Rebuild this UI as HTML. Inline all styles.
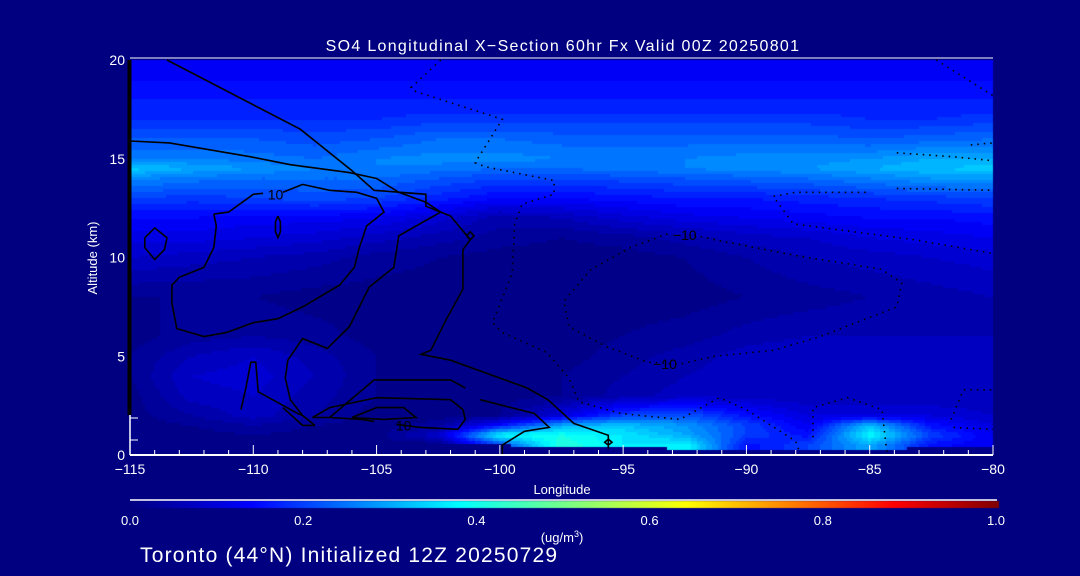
<!DOCTYPE html>
<html><head><meta charset="utf-8"><style>
html,body{margin:0;padding:0;background:#000080;}
#wrap{position:relative;width:1080px;height:576px;background:#000080;overflow:hidden;font-family:"Liberation Sans",sans-serif;}
canvas,svg{position:absolute;left:0;top:0;}
</style></head><body>
<div id="wrap">
<canvas id="heat" width="1080" height="576"></canvas>
<svg id="svg" width="1080" height="576"></svg>
</div>
<script>
// ---- data ----
const lons = [-115,-112.5,-110,-107.5,-105,-102.5,-100,-97.5,-95,-92.5,-90,-87.5,-85,-82.5,-80];
const alts = [0,0.5,1,1.5,2,3,4,5,6,8,10,11,12,13,14,14.5,15,16,17,18,19,20];
const terrain = [1.0,1.0,1.0,0.9,0.8,0.6,0.5,0.4,0.4,0.3,0.3,0.3,0.3,0.35,0.35];
const so4 = [
 [.01,.01,.01,.01,.01,.01,.2,.42,.36,.38,.15,.2,.3,.15,.12],
 [.01,.01,.01,.01,.01,.01,.2,.42,.36,.38,.15,.2,.3,.15,.12],
 [.01,.01,.02,.01,.01,.08,.38,.4,.36,.3,.2,.15,.38,.2,.12],
 [.01,.02,.04,.02,.01,.03,.15,.3,.32,.28,.2,.12,.32,.15,.1],
 [.01,.04,.07,.04,.01,.01,.02,.1,.2,.22,.15,.1,.1,.1,.08],
 [.01,.07,.08,.05,.02,.01,.01,.02,.05,.07,.07,.06,.06,.06,.06],
 [.02,.08,.09,.06,.02,.01,.01,.02,.04,.06,.07,.07,.07,.07,.07],
 [.02,.06,.08,.05,.02,.01,.01,.01,.03,.05,.07,.08,.08,.07,.07],
 [.01,.03,.04,.03,.01,.01,.01,.01,.02,.03,.05,.06,.06,.06,.06],
 [.02,.02,.02,.01,.01,.01,.01,.01,.01,.01,.02,.03,.04,.05,.06],
 [.08,.07,.06,.05,.03,.02,.01,.01,.01,.02,.04,.06,.07,.08,.09],
 [.11,.11,.1,.09,.07,.05,.03,.02,.03,.05,.07,.08,.1,.11,.12],
 [.14,.14,.13,.13,.12,.09,.05,.06,.09,.11,.12,.13,.14,.14,.15],
 [.2,.19,.2,.21,.2,.17,.14,.14,.15,.16,.16,.17,.18,.19,.2],
 [.27,.25,.24,.24,.24,.22,.2,.2,.21,.22,.23,.24,.26,.28,.28],
 [.33,.3,.28,.26,.26,.25,.24,.24,.25,.26,.27,.28,.3,.32,.33],
 [.26,.26,.25,.24,.26,.27,.27,.26,.26,.26,.27,.27,.28,.3,.3],
 [.22,.22,.22,.21,.22,.24,.24,.23,.23,.23,.23,.23,.22,.23,.24],
 [.18,.18,.18,.18,.18,.19,.19,.19,.19,.19,.19,.19,.18,.18,.19],
 [.16,.16,.16,.16,.16,.16,.16,.16,.16,.16,.16,.16,.16,.16,.16],
 [.14,.14,.14,.14,.14,.14,.14,.14,.14,.14,.14,.14,.14,.14,.14],
 [.13,.13,.13,.13,.13,.13,.13,.13,.13,.13,.13,.13,.13,.13,.13]
];
const xTicks = [-115,-110,-105,-100,-95,-90,-85,-80];
const xTickLabels = ["\u2212115","\u2212110","\u2212105","\u2212100","\u221295","\u221290","\u221285","\u221280"];
const yTicks = [0,5,10,15,20];
const yTickLabels = ["0","5","10","15","20"];
const cbTicks = [0,0.2,0.4,0.6,0.8,1.0];
const cbTickLabels = ["0.0","0.2","0.4","0.6","0.8","1.0"];
const solidContours = [
 [[-113.5,20],[-108.1,16.5],[-106,14.4],[-105.1,13.4],[-103,13.2],[-103,12.6],[-102,12.1],[-101.2,10.9],[-101.5,10.4],[-101.5,8.4],[-102.2,6.8],[-102.8,5.3],[-103.2,5.1],[-102,4.8],[-98.9,3.4],[-98.05,2.8],[-97,1.6],[-95.6,1.0],[-95.6,0.3]],
 [[-115,15.9],[-113.4,15.8],[-110.1,15.1],[-108.5,14.7],[-106.1,14.3],[-105,14],[-104.1,13.3],[-103,12.8],[-102.4,12.3],[-104.1,11.1],[-104.3,9.5],[-105.3,8.5],[-106.1,6.5],[-107,5.4],[-108,5.9],[-108.6,4.8],[-108.7,3.9],[-108.5,2.8],[-108,2.0],[-107.5,1.5]],
 [[-111.6,12.2],[-111.5,11.6],[-111.6,10.5],[-112,9.5],[-113,9],[-113.3,8.6],[-113.3,7.7],[-113.1,6.4],[-112,6],[-111.1,6.2],[-110,6.7],[-109,6.9],[-108,7.5],[-106.5,8.6],[-105.9,9.5],[-105.7,10.5],[-105.4,11.6],[-104.7,12.3],[-105,13],[-105.8,13.3],[-106.9,13.4],[-108,13.7],[-108.4,13.5],[-108.8,13.3]],
 [[-109.6,13.25],[-110,13.2],[-111,12.3],[-111.6,12.2]],
 [[-114.4,11],[-114,11.5],[-113.5,11],[-113.6,10.4],[-114,9.9],[-114.4,10.5],[-114.4,11]],
 [[-109,12.1],[-108.9,11.8],[-108.9,11.3],[-109,11],[-109.1,11.3],[-109.1,11.8],[-109,12.1]],
 [[-110.5,2.3],[-110.3,3.4],[-110.1,4.7],[-109.9,4.7],[-109.8,3.2],[-108.2,2.1],[-108,2.0]],
 [[-108.8,2.4],[-108,1.5],[-107.5,1.5]],
 [[-107.6,1.9],[-106.9,2.4],[-105,2.9],[-102,2.8],[-101.5,2.3],[-101.4,1.8],[-101.7,1.3],[-103.2,1.4],[-104.2,1.55]],
 [[-105.1,1.7],[-105.6,1.8],[-106.9,1.9],[-107.6,1.9]],
 [[-106.9,1.9],[-105.1,3.8],[-102,3.8],[-101.4,3.4]],
 [[-106,1.9],[-105,2.4],[-103.9,2.4],[-103.4,1.9],[-104.7,1.8],[-106,1.9]],
 [[-100.8,2.8],[-98.6,2.1],[-98,1.4],[-99,1.2],[-99.9,0.5],[-99.9,0]],
 [[-101.2,10.9],[-101.05,11.1],[-101.2,11.3],[-101.35,11.1],[-101.2,10.9]],
 [[-95.6,0.5],[-95.45,0.65],[-95.6,0.8],[-95.75,0.65],[-95.6,0.5]]
];
const dottedContours = [
 [[-102.4,20],[-103.6,18.6],[-103.4,18.4],[-99.9,17],[-101,14.8],[-100.6,14.6],[-97.8,13.9],[-97.8,13.2],[-99.1,12.7],[-99.4,11.7],[-99.5,9.2],[-100.3,6.7],[-99.9,6.2],[-98.1,5.2],[-97.2,3.9],[-96.8,2.7],[-95.1,2.1],[-92.7,1.8],[-91.1,2.9],[-90,2.3],[-88,0.7],[-87.8,0]],
 [[-93.2,11.2],[-94.7,10.5],[-96.3,9.4],[-97.4,7.8],[-97.2,6.5],[-95.7,5.5],[-94,4.7],[-92.7,4.6],[-91.3,5.0],[-88.9,5.3],[-87,6.0],[-83.9,7.5],[-83.7,8.7],[-84.5,9.4],[-88,10.1],[-91.3,10.9],[-92.3,11.2]],
 [[-87.3,0.9],[-87.3,2.4],[-85.9,2.9],[-84.5,2.3],[-84.3,0.05]],
 [[-88.9,13.1],[-88,13.3],[-85,13.3]],
 [[-88.8,12.9],[-88.1,11.7],[-83.2,10.9],[-80,10.2]],
 [[-83.9,13.5],[-80,13.4]],
 [[-83.9,15.3],[-81.6,15.1],[-80,14.9]],
 [[-80.9,15.7],[-80,15.8]],
 [[-82.3,20],[-80,18.2]],
 [[-81.7,1.8],[-81.2,3.3],[-80,3.3]],
 [[-81.6,1.4],[-80,1.3]]
];
const contourLabels = [["10",-109.1,13.2],["10",-103.9,1.5],["\u221210",-92.5,11.15],["\u221210",-93.3,4.6]];

// ---- layout ----
const X0=130,X1=993,Y0=455,Y1=60;
const xs = v => X0+(v-(-115))/35*(X1-X0);
const ys = v => Y0-(v/20)*(Y0-Y1);
const stops=[[0,[0,0,128]],[0.14,[0,0,255]],[0.38,[0,255,255]],[0.64,[255,255,0]],[0.88,[255,0,0]],[1,[128,0,0]]];
function cmap(v){v=Math.max(0,Math.min(1,v));for(let i=1;i<stops.length;i++){if(v<=stops[i][0]){const a=stops[i-1],b=stops[i],t=(v-a[0])/(b[0]-a[0]);return a[1].map((c,k)=>Math.round(c+(b[1][k]-c)*t));}}return stops[stops.length-1][1];}
function idx(lon){let i=0;while(i<lons.length-2&&lon>lons[i+1])i++;return i;}
function interp(lon,alt){
 const i=idx(lon);
 let j=0;while(j<alts.length-2&&alt>alts[j+1])j++;
 const tx=Math.max(0,Math.min(1,(lon-lons[i])/(lons[i+1]-lons[i])));
 const ty=Math.max(0,Math.min(1,(alt-alts[j])/(alts[j+1]-alts[j])));
 const a=so4[j][i],b=so4[j][i+1],c=so4[j+1][i],d=so4[j+1][i+1];
 return (a*(1-tx)+b*tx)*(1-ty)+(c*(1-tx)+d*tx)*ty;
}
function terr(lon){const i=idx(lon);const t=Math.max(0,Math.min(1,(lon-lons[i])/(lons[i+1]-lons[i])));return terrain[i]*(1-t)+terrain[i+1]*t;}
const ctx=document.getElementById('heat').getContext('2d');
const step=3;
for(let px=X0;px<X1;px+=step){for(let py=Y1;py<Y0;py+=step){
 const lon=-115+(px+step/2-X0)/(X1-X0)*35, alt=(Y0-(py+step/2))/(Y0-Y1)*20;
 let v = alt<terr(lon) ? 0 : interp(lon,alt);
 v=Math.floor(v/0.02)*0.02+0.01;
 const c=cmap(v); ctx.fillStyle=`rgb(${c[0]},${c[1]},${c[2]})`;
 ctx.fillRect(px,py,Math.min(step,X1-px),Math.min(step,Y0-py));
}}
const grd=ctx.createLinearGradient(130,0,999,0);
stops.forEach(s=>{const c=s[1];grd.addColorStop(s[0],`rgb(${c[0]},${c[1]},${c[2]})`);});
ctx.fillStyle=grd;ctx.fillRect(130,501,869,7);

const svg=document.getElementById('svg');const NS='http://www.w3.org/2000/svg';
function mk(tag,attrs,parent){const e=document.createElementNS(NS,tag);for(const k in attrs)e.setAttribute(k,attrs[k]);(parent||svg).appendChild(e);return e;}
function pts(c){return c.map(p=>xs(p[0]).toFixed(1)+','+ys(p[1]).toFixed(1)).join(' ');}
solidContours.forEach(c=>{const e=mk('polyline',{points:pts(c),fill:'none',stroke:'#000','stroke-width':1.6});
 
 });
dottedContours.forEach(c=>{const e=mk('polyline',{points:pts(c),fill:'none',stroke:'#000','stroke-width':1.6,'stroke-dasharray':'1.5 5'});
 
 });
contourLabels.forEach(l=>{const t=mk('text',{x:xs(l[1]),y:ys(l[2])+5,'font-size':14,fill:'#000','text-anchor':'middle'});t.textContent=l[0];
 
 });
let e;
e=mk('line',{x1:X0,y1:Y0,x2:X1,y2:Y0,stroke:'#fff','stroke-width':2});


e=mk('line',{x1:X0,y1:58,x2:X1,y2:58,stroke:'#fff','stroke-width':1});


e=mk('line',{x1:129.5,y1:60,x2:129.5,y2:415,stroke:'#000','stroke-width':4});


e=mk('line',{x1:130,y1:415,x2:130,y2:455,stroke:'#fff','stroke-width':1.5});


[418,440].forEach(y=>{const t=mk('line',{x1:130,y1:y,x2:138,y2:y,stroke:'#fff','stroke-width':1});
 
 });
for(let lon=-115;lon<=-80;lon++){const major=lon%5===0;const t=mk('line',{x1:xs(lon),y1:Y0,x2:xs(lon),y2:Y0-(major?10:5),stroke:'#fff','stroke-width':1});
 
 }
xTicks.forEach((v,i)=>{const t=mk('text',{x:xs(v),y:474,'font-size':14,fill:'#fff','text-anchor':'middle'});t.textContent=xTickLabels[i];
 
 });
yTicks.forEach((v,i)=>{const t=mk('text',{x:125,y:ys(v)+5,'font-size':14,fill:'#fff','text-anchor':'end'});t.textContent=yTickLabels[i];
 
 });
e=mk('text',{x:562,y:494,'font-size':13,fill:'#fff','text-anchor':'middle'});e.textContent='Longitude';


e=mk('text',{x:0,y:0,'font-size':13,fill:'#fff','text-anchor':'middle',transform:'translate(97,258) rotate(-90)'});e.textContent='Altitude (km)';


e=mk('text',{x:563,y:51,'font-size':16,fill:'#fff','text-anchor':'middle','letter-spacing':'1.3','xml:space':'preserve'});e.textContent='SO4 Longitudinal X\u2212Section 60hr  Fx Valid 00Z 20250801';


e=mk('line',{x1:130,y1:500,x2:997,y2:500,stroke:'#fff','stroke-width':1.5});


e=mk('rect',{x:130,y:501,width:869,height:7,fill:'none',stroke:'none'});


cbTicks.forEach((v,i)=>{const t=mk('text',{x:130+v*866,y:525,'font-size':13,fill:'#fff','text-anchor':'middle'});t.textContent=cbTickLabels[i];
 
 });
e=mk('text',{x:562,y:542,'font-size':13,fill:'#fff','text-anchor':'middle'});e.innerHTML='(ug/m<tspan dy="-5" font-size="9">3</tspan><tspan dy="5">)</tspan>';


e=mk('text',{x:140,y:562,'font-size':21,fill:'#fff','letter-spacing':'1.2'});e.textContent='Toronto (44\u00B0N) Initialized 12Z 20250729';


</script>
</body></html>
